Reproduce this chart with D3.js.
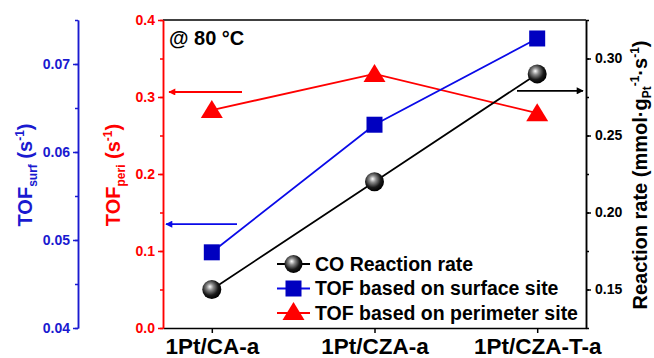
<!DOCTYPE html>
<html>
<head>
<meta charset="utf-8">
<script src="https://cdn.jsdelivr.net/npm/d3@7"></script>
<style>
  body { margin: 0; background: #fff; }
  svg { display: block; font-family: 'Liberation Sans', Arial, sans-serif; font-weight: bold; }
</style>
</head>
<body>
<svg id="chart" width="654" height="358"></svg>
<script>

var categories = ['1Pt/CA-a', '1Pt/CZA-a', '1Pt/CZA-T-a'];
var reactionRate = [0.15, 0.22, 0.29];
var tofSurf = [0.0486, 0.0631, 0.0729];
var tofPeri = [0.283, 0.330, 0.279];

var surfTicks = [0.04, 0.05, 0.06, 0.07];
var periTicks = [0.0, 0.1, 0.2, 0.3, 0.4];
var rateTicks = [0.15, 0.20, 0.25, 0.30];

var legendLabels = ['CO Reaction rate', 'TOF based on surface site', 'TOF based on perimeter site'];

var FONT = "'Liberation Sans', Arial, sans-serif";
var RED = '#ff0000';
var BLUE = '#1a1ad0';
var BLUE_LINE = '#0a0ae8';
var BLUE_FILL = '#0000c0';

var _svg = d3.select('#chart');
var _margins = {top: 20, right: 68, bottom: 30, left: 163};
var _width = 654 - _margins.left - _margins.right;
var _height = 358 - _margins.top - _margins.bottom;
var _surfAxisX = 78;

var x = d3.scalePoint().domain(categories).range([0, _width]).padding(0.3);
var ySurf = d3.scaleLinear().domain([0.04, 0.075]).range([_height, 0]);
var yPeri = d3.scaleLinear().domain([0, 0.4]).range([_height, 0]);
var yRate = d3.scaleLinear().domain([0.125, 0.325]).range([_height, 0]);

var defs = _svg.append('defs');
var grad = defs.append('radialGradient')
    .attr('id', 'ball').attr('cx', '42%').attr('cy', '40%').attr('r', '60%')
    .attr('fx', '40%').attr('fy', '35%');
grad.append('stop').attr('offset', '0%').attr('stop-color', '#ffffff');
grad.append('stop').attr('offset', '30%').attr('stop-color', '#8a8a8a');
grad.append('stop').attr('offset', '70%').attr('stop-color', '#1a1a1a');
grad.append('stop').attr('offset', '100%').attr('stop-color', '#000000');

['red', 'blue', 'black'].forEach(function (k) {
    defs.append('marker')
        .attr('id', 'arrow-' + k)
        .attr('viewBox', '0 -5 10 10')
        .attr('refX', 9).attr('refY', 0)
        .attr('markerWidth', 10).attr('markerHeight', 7)
        .attr('markerUnits', 'userSpaceOnUse')
        .attr('orient', 'auto')
      .append('path')
        .attr('d', 'M0,-5L10,0L0,5Z')
        .attr('fill', k === 'red' ? RED : (k === 'blue' ? BLUE_LINE : '#000'));
});

var g = _svg.append('g').attr('transform', 'translate(' + _margins.left + ',' + _margins.top + ')');

function minorTicks(scale, step) {
    var d = scale.domain();
    var out = [];
    for (var v = d[0]; v <= d[1] + 1e-9; v += step) { out.push(+v.toFixed(4)); }
    return out;
}

function styleAxis(sel, color, size) {
    sel.attr('font-family', FONT).attr('font-weight', 'bold');
    sel.selectAll('path, line').attr('stroke', color).attr('stroke-width', 1.5);
    sel.selectAll('text').attr('fill', color).style('font-size', size + 'px').style('font-weight', 'bold');
}

// frame top
g.append('line').attr('x1', 0).attr('x2', _width).attr('y1', 0).attr('y2', 0)
    .attr('stroke', '#000').attr('stroke-width', 1.5);

var xAxis = g.append('g')
    .attr('transform', 'translate(0,' + _height + ')')
    .call(d3.axisBottom(x).tickSize(5).tickSizeOuter(0));
styleAxis(xAxis, '#000', 22.5);
xAxis.selectAll('text').attr('dy', null).attr('y', 25.5);

// TOF_peri axis (red, on plot left)
var periMinor = g.append('g')
    .call(d3.axisLeft(yPeri).tickValues(minorTicks(yPeri, 0.05)).tickSize(3).tickFormat('').tickSizeOuter(0));
styleAxis(periMinor, RED, 13);
var periAxis = g.append('g')
    .call(d3.axisLeft(yPeri).tickValues(periTicks).tickSize(5).tickPadding(3)
        .tickFormat(d3.format('.1f')).tickSizeOuter(0));
styleAxis(periAxis, RED, 14);

// reaction rate axis (right)
var rateMinor = g.append('g')
    .attr('transform', 'translate(' + _width + ',0)')
    .call(d3.axisRight(yRate).tickValues(minorTicks(yRate, 0.025)).tickSize(3).tickFormat('').tickSizeOuter(0));
styleAxis(rateMinor, '#000', 13);
var rateAxis = g.append('g')
    .attr('transform', 'translate(' + _width + ',0)')
    .call(d3.axisRight(yRate).tickValues(rateTicks).tickSize(5).tickPadding(4)
        .tickFormat(d3.format('.2f')).tickSizeOuter(0));
styleAxis(rateAxis, '#000', 14);

// TOF_surf axis (blue, offset far left)
var gs = _svg.append('g').attr('transform', 'translate(' + _surfAxisX + ',' + _margins.top + ')');
var surfMinor = gs.append('g')
    .call(d3.axisLeft(ySurf).tickValues(minorTicks(ySurf, 0.005)).tickSize(3).tickFormat('').tickSizeOuter(0));
styleAxis(surfMinor, BLUE, 13);
var surfAxis = gs.append('g')
    .call(d3.axisLeft(ySurf).tickValues(surfTicks).tickSize(5).tickPadding(3)
        .tickFormat(d3.format('.2f')).tickSizeOuter(0));
styleAxis(surfAxis, BLUE, 14);

// series
var rateData = categories.map(function (c, i) { return {key: c, value: reactionRate[i]}; });
var surfData = categories.map(function (c, i) { return {key: c, value: tofSurf[i]}; });
var periData = categories.map(function (c, i) { return {key: c, value: tofPeri[i]}; });

function drawLine(data, yScale, color) {
    g.append('path')
        .datum(data)
        .attr('fill', 'none')
        .attr('stroke', color)
        .attr('stroke-width', 1.8)
        .attr('d', d3.line()
            .x(function (d) { return x(d.key); })
            .y(function (d) { return yScale(d.value); }));
}

drawLine(periData, yPeri, RED);
drawLine(surfData, ySurf, BLUE_LINE);
drawLine(rateData, yRate, '#000');

var TRIANGLE = 'M0,-10L11,8L-11,8Z';

g.selectAll('.peri-mark')
    .data(periData)
  .enter().append('path')
    .attr('class', 'peri-mark')
    .attr('d', TRIANGLE)
    .attr('fill', RED)
    .attr('transform', function (d) { return 'translate(' + x(d.key) + ',' + yPeri(d.value) + ')'; });

g.selectAll('.surf-mark')
    .data(surfData)
  .enter().append('rect')
    .attr('class', 'surf-mark')
    .attr('x', function (d) { return x(d.key) - 8; })
    .attr('y', function (d) { return ySurf(d.value) - 8; })
    .attr('width', 16).attr('height', 16)
    .attr('fill', BLUE_FILL);

g.selectAll('.rate-mark')
    .data(rateData)
  .enter().append('circle')
    .attr('class', 'rate-mark')
    .attr('cx', function (d) { return x(d.key); })
    .attr('cy', function (d) { return yRate(d.value); })
    .attr('r', 9.5)
    .attr('fill', 'url(#ball)');

// arrows pointing to each series' axis
function arrow(x1, x2, y, key, color) {
    g.append('line')
        .attr('x1', x1).attr('x2', x2).attr('y1', y).attr('y2', y)
        .attr('stroke', color).attr('stroke-width', 1.8)
        .attr('marker-end', 'url(#arrow-' + key + ')');
}
arrow(79, 6, yPeri(0.3065), 'red', RED);
arrow(74, 3, ySurf(0.0518), 'blue', BLUE_LINE);
arrow(354, 420, yRate(0.279), 'black', '#000');

g.append('text')
    .attr('x', 6).attr('y', 25)
    .style('font-size', '20px')
    .text('@ 80 \u00b0C');

// legend
var legend = g.append('g').attr('transform', 'translate(114,244)');
var legendItems = legend.selectAll('.legend-item')
    .data(legendLabels)
  .enter().append('g')
    .attr('class', 'legend-item')
    .attr('transform', function (d, i) { return 'translate(0,' + (i * 24.5) + ')'; });

var legendColors = ['#000', BLUE_LINE, RED];
legendItems.append('line')
    .attr('x1', 0).attr('x2', 33).attr('y1', 0).attr('y2', 0)
    .attr('stroke', function (d, i) { return legendColors[i]; })
    .attr('stroke-width', 1.8);

legendItems.each(function (d, i) {
    var item = d3.select(this);
    if (i === 0) {
        item.append('circle').attr('cx', 16.5).attr('cy', 0).attr('r', 9).attr('fill', 'url(#ball)');
    } else if (i === 1) {
        item.append('rect').attr('x', 8.5).attr('y', -8).attr('width', 16).attr('height', 16).attr('fill', BLUE_FILL);
    } else {
        item.append('path').attr('d', TRIANGLE).attr('fill', RED)
            .attr('transform', 'translate(16.5,-1)');
    }
});

legendItems.append('text')
    .attr('x', 38).attr('y', 6.5)
    .style('font-size', '19.5px')
    .text(function (d) { return d; });

// axis titles
function axisTitle(xPos, yPos, color, parts) {
    var t = _svg.append('text')
        .attr('transform', 'translate(' + xPos + ',' + yPos + ') rotate(-90)')
        .attr('text-anchor', 'middle')
        .attr('fill', color)
        .style('font-size', '20px');
    parts.forEach(function (p) {
        var ts = t.append('tspan').text(p.text);
        if (p.shift) { ts.attr('dy', p.shift); }
        if (p.small) { ts.style('font-size', '12px'); }
    });
}

axisTitle(32, 175, BLUE, [
    {text: 'TOF'}, {text: 'surf', small: true, shift: 5},
    {text: ' (s', shift: -5}, {text: '-1', small: true, shift: -8},
    {text: ')', shift: 8}
]);
axisTitle(120, 175, RED, [
    {text: 'TOF'}, {text: 'peri', small: true, shift: 5},
    {text: ' (s', shift: -5}, {text: '-1', small: true, shift: -8},
    {text: ')', shift: 8}
]);
axisTitle(647, 175, '#000', [
    {text: 'Reaction rate (mmol\u00b7g'}, {text: 'Pt', small: true, shift: 4},
    {text: '-1', small: true, shift: -12}, {text: '\u00b7s', shift: 8},
    {text: '-1', small: true, shift: -8}, {text: ')', shift: 8}
]);

</script>
</body>
</html>
